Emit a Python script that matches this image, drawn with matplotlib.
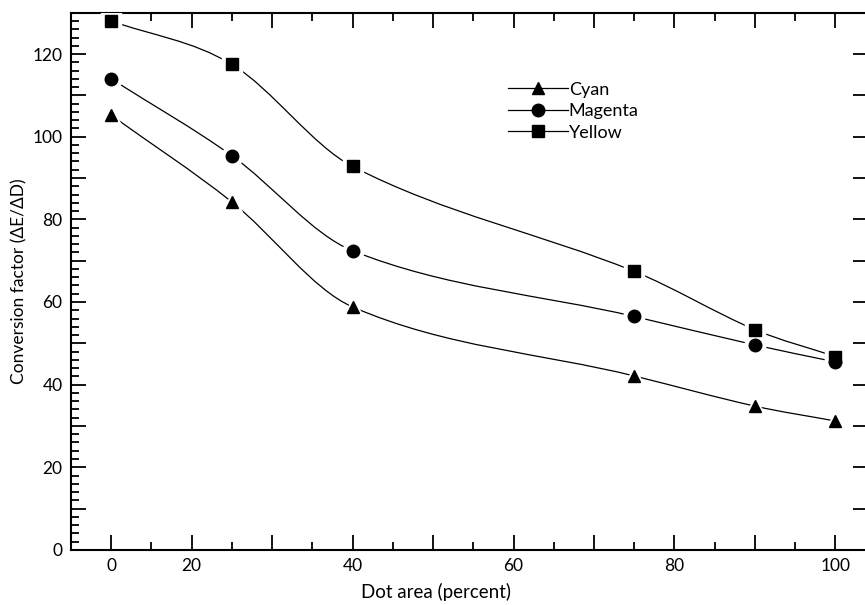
import numpy as np
import matplotlib
matplotlib.use('Agg')
import matplotlib.pyplot as plt
from matplotlib.path import Path
from matplotlib.patches import PathPatch
from matplotlib.lines import Line2D
from matplotlib.ticker import FixedLocator, FuncFormatter, MultipleLocator

plt.rcParams['font.family'] = ['Lato', 'DejaVu Sans']

# dot area values as read against the printed axis labels
dot_area = [0, 25, 40, 75, 90, 100]
cyan = [105.2, 84.2, 58.8, 42.1, 34.8, 31.2]
magenta = [114.0, 95.4, 72.4, 56.5, 49.6, 45.5]
yellow = [128.0, 117.5, 92.8, 67.4, 53.3, 46.8]
names = ['Cyan', 'Magenta', 'Yellow']
markers = ['^', 'o', 's']
x_major = [0, 20, 30, 40, 50, 60, 70, 80, 90, 100]
x_labels = {0: '0', 20: '20', 40: '40', 60: '60', 80: '80', 100: '100'}


# the printed x axis is piecewise: 0-20 spans one tick interval, then 10 per interval
def fwd(x):
    x = np.asarray(x, dtype=float)
    return np.where(x <= 20, x / 20.0, 1 + (x - 20) / 10.0)


def inv(p):
    p = np.asarray(p, dtype=float)
    return np.where(p <= 1, p * 20.0, 20 + (p - 1) * 10.0)


def smooth_path(xs, ys):
    # cubic hermite curve y(x) through the points, drawn as bezier segments
    xs = np.asarray(xs, dtype=float)
    ys = np.asarray(ys, dtype=float)
    h = np.diff(xs)
    d = np.diff(ys) / h
    m = np.empty_like(ys)
    m[0], m[-1] = d[0], d[-1]
    m[1:-1] = (ys[2:] - ys[:-2]) / (xs[2:] - xs[:-2])
    verts = [(xs[0], ys[0])]
    codes = [Path.MOVETO]
    for i in range(len(xs) - 1):
        verts += [(xs[i] + h[i] / 3, ys[i] + m[i] * h[i] / 3),
                  (xs[i + 1] - h[i] / 3, ys[i + 1] - m[i + 1] * h[i] / 3),
                  (xs[i + 1], ys[i + 1])]
        codes += [Path.CURVE4] * 3
    return Path(verts, codes)


fig = plt.figure(figsize=(8.65, 6.05), dpi=100)
ax = fig.add_axes([0.082, 0.091, 0.921, 0.888])
ax.set_xscale('function', functions=(fwd, inv))
ax.set_xlim(-10, 104)
ax.set_ylim(0, 130)

for vals, m in zip([cyan, magenta, yellow], markers):
    path = smooth_path(fwd(dot_area), vals)
    ax.add_patch(PathPatch(path, facecolor='none', edgecolor='black', lw=0.9,
                           transform=ax.transLimits + ax.transAxes, zorder=2))
    ax.plot(dot_area, vals, ls='none', marker=m, ms=15, color='white', zorder=3)
    ax.plot(dot_area, vals, ls='none', marker=m, ms=9, color='black', zorder=4)

ax.xaxis.set_major_locator(FixedLocator(x_major))
ax.xaxis.set_minor_locator(FixedLocator(inv(np.arange(-0.5, 9.6, 1.0))))
ax.xaxis.set_major_formatter(FuncFormatter(lambda v, p: x_labels.get(int(round(v)), '')))
ax.yaxis.set_major_locator(MultipleLocator(10))
ax.yaxis.set_minor_locator(MultipleLocator(2))
ax.yaxis.set_major_formatter(FuncFormatter(lambda v, p: '%d' % v if int(v) % 20 == 0 else ''))

ax.tick_params(which='major', direction='in', length=11, width=1.3, top=True, right=True,
               labelsize=12.5, pad=6)
ax.tick_params(which='minor', direction='in', length=6, width=1.3, top=True, right=False)
for s in ax.spines.values():
    s.set_linewidth(1.5)

ax.set_xlabel('Dot area (percent)', fontsize=13.5)
ax.xaxis.set_label_coords(0.458, -0.062)
ax.set_ylabel('Conversion factor (ΔE/ΔD)', fontsize=12.5, labelpad=4)

handles = [Line2D([], [], color='black', lw=0.9, marker=m, ms=9) for m in markers]
ax.legend(handles, names, loc='upper left', bbox_to_anchor=(0.54, 0.885),
          frameon=False, fontsize=13, handlelength=3.3, handletextpad=0.05,
          labelspacing=0.3, borderaxespad=0)

fig.savefig('out.png', dpi=100)
